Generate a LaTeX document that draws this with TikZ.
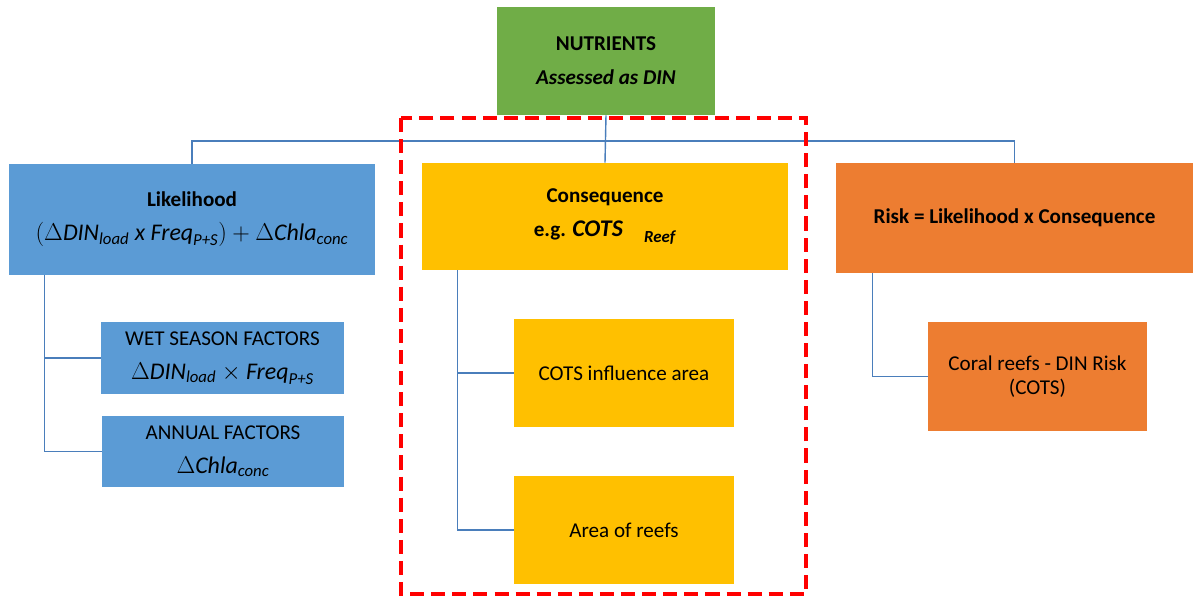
\documentclass[tikz,border=0pt]{standalone}
\usepackage{amsmath}
\usepackage{fontspec}
\setmainfont{Carlito}
\definecolor{nutgreen}{HTML}{70AD47}
\definecolor{likblue}{HTML}{5B9BD5}
\definecolor{conyellow}{HTML}{FFC000}
\definecolor{riskorange}{HTML}{ED7D31}
\definecolor{linkblue}{HTML}{4A7EBB}
\newcommand\mv[1]{\textit{#1}}
\newcommand\mathline{\fontsize{17}{24}\selectfont}
\begin{document}
\begin{tikzpicture}[x=0.025cm,y=-0.025cm,
box/.style={rectangle, inner sep=0pt, align=center, font=\fontsize{15}{24}\selectfont},
link/.style={draw=linkblue, line width=1pt}]
\useasboundingbox (0,0) rectangle (1193,596);
\node[box, fill=nutgreen, minimum width=5.45cm, minimum height=2.7cm] (nutr) at (606,61) {\textbf{NUTRIENTS}\\\textbf{\textit{Assessed as DIN}}};
\node[box, fill=likblue, minimum width=9.15cm, minimum height=2.775cm] (lik) at (192,219.5) {\textbf{Likelihood}\\{\mathline$(\Delta\mv{DIN}_{\mv{load}}\ \mv{x}\ \mv{Freq}_{\mv{P+S}})+\Delta\mv{Chla}_{\mv{conc}}$}};
\node[box, fill=likblue, minimum width=6.075cm, minimum height=1.8cm] (wet) at (222.5,358) {WET SEASON FACTORS\\{\mathline$\Delta\mv{DIN}_{\mv{load}}\times\mv{Freq}_{\mv{P+S}}$}};
\node[box, fill=likblue, minimum width=6.05cm, minimum height=1.775cm] (ann) at (223,451.5) {ANNUAL FACTORS\\{\mathline$\Delta\mv{Chla}_{\mv{conc}}$}};
\node[box, fill=conyellow, minimum width=9.15cm, minimum height=2.675cm] (cons) at (605,216.5) {\textbf{Consequence}\\\textbf{e.g. {\mathline\textit{COTS}}}\quad\raisebox{-4pt}{\fontsize{12}{12}\selectfont\textbf{\textit{Reef}}}};
\node[box, fill=conyellow, minimum width=5.5cm, minimum height=2.7cm] (infl) at (624,373) {COTS influence area};
\node[box, fill=conyellow, minimum width=5.5cm, minimum height=2.7cm] (reefs) at (624,530) {Area of reefs};
\node[box, fill=riskorange, minimum width=8.925cm, minimum height=2.75cm] (risk) at (1014.5,218) {\textbf{Risk = Likelihood x Consequence}};
\node[box, fill=riskorange, minimum width=5.475cm, minimum height=2.725cm, font=\fontsize{15}{17}\selectfont] (coral) at (1037.5,376.5) {Coral reefs - DIN Risk\\(COTS)};
% tree lines
\coordinate (bus) at (606,141);
\draw[link] (nutr.south)--(cons.north);
\draw[link] (lik.north) |- (bus) -| (risk.north);
\draw[link] ([xshift=0.9cm]lik.south west) |- (wet.west);
\draw[link] ([xshift=0.9cm]lik.south west) |- (ann.west);
\draw[link] ([xshift=0.9cm]cons.south west) |- (infl.west);
\draw[link] ([xshift=0.9cm]cons.south west) |- (reefs.west);
\draw[link] ([xshift=0.925cm]risk.south west) |- (coral.west);
% consequence frame
\draw[red, line width=2.8pt, dash pattern=on 10pt off 5pt] (401,118) rectangle (806,594);
\end{tikzpicture}
\end{document}
